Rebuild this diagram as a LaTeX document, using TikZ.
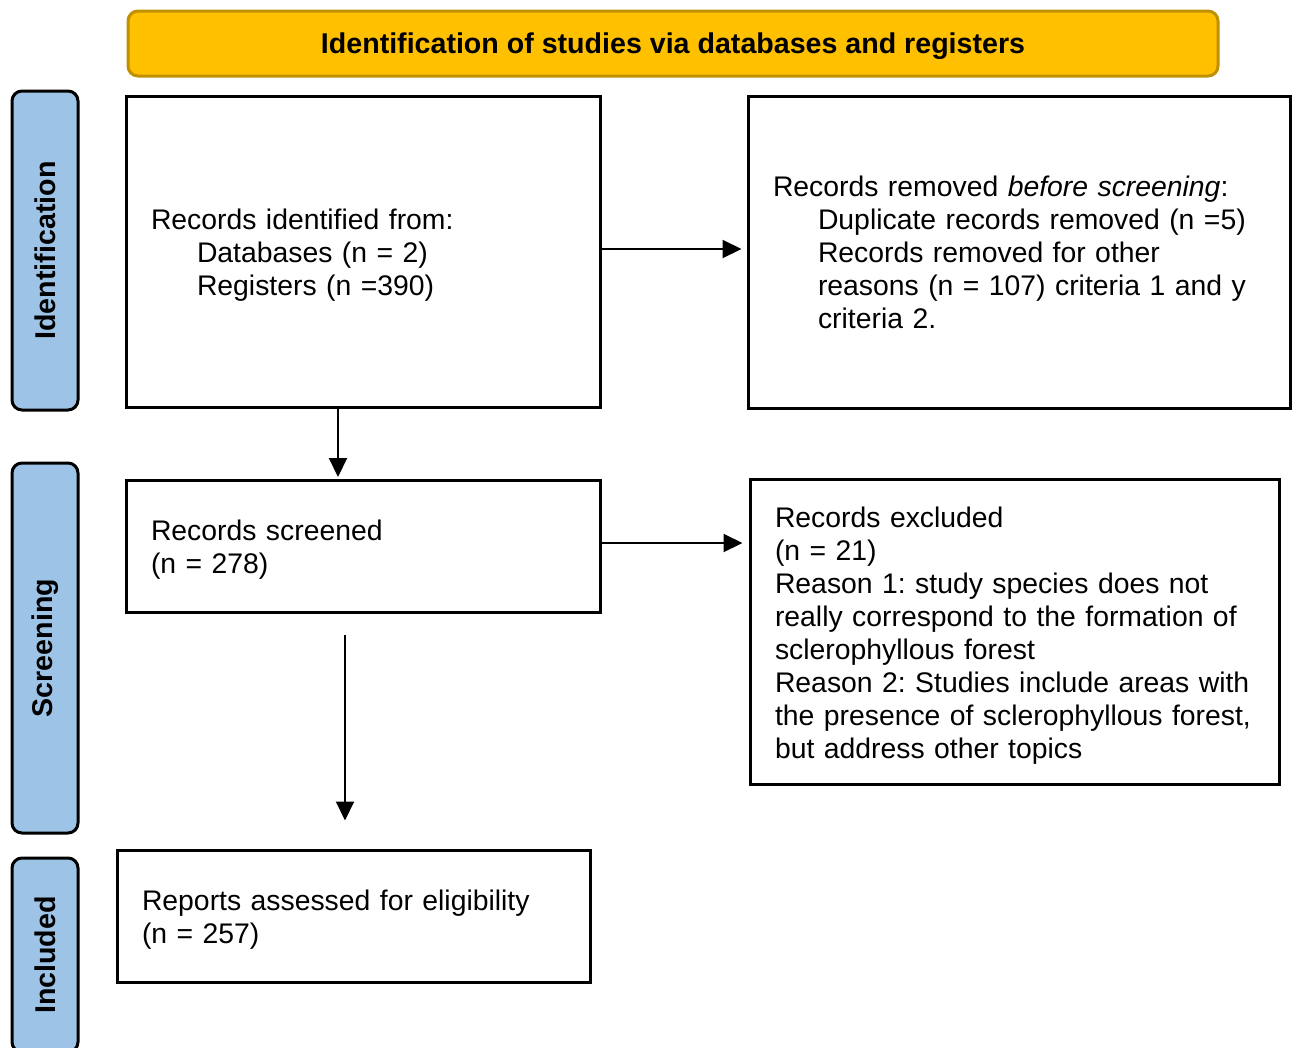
\documentclass[tikz,border=0pt]{standalone}
\usepackage{fontspec}
\setmainfont{Liberation Sans}
\usetikzlibrary{arrows.meta,calc}
\definecolor{hdrfill}{HTML}{FFC000}
\definecolor{hdrdraw}{HTML}{BF9000}
\definecolor{sidefill}{HTML}{9DC3E6}
\newcommand\mystrut{\rule{0pt}{28.5pt}}
\begin{document}
\frenchspacing
\begin{tikzpicture}[x=1pt,y=-1pt,
  font=\fontsize{28.35}{33}\selectfont,
  box/.style={draw=black, line width=3pt, fill=white, inner xsep=25pt, inner ysep=0pt,
    align=left, anchor=center,
    execute at begin node={\frenchspacing\hyphenpenalty=10000\exhyphenpenalty=10000}},
  side/.style={draw=black, line width=3pt, fill=sidefill, rounded corners=10pt, rotate=90,
    font=\fontsize{28.6}{33}\selectfont\bfseries, inner sep=0pt, minimum height=66pt},
  arr/.style={line width=2pt, -{Triangle[length=19pt,width=18pt]}}]
\useasboundingbox (0,0) rectangle (1292,1047);
\clip (0,0) rectangle (1292,1047);

% header
\node[draw=hdrdraw, fill=hdrfill, line width=3pt, rounded corners=10pt,
      minimum width=1090pt, minimum height=65pt, inner sep=0pt, text depth=0pt,
      font=\fontsize{28.6}{33}\selectfont\bfseries] (hdr) at (673,43.5)
  {Identification of studies via databases and registers};

% side labels
\node[side, minimum width=319pt] (sid) at (45,250.5) {Identification};
\node[side, minimum width=370pt] (sscr) at (45,648) {Screening};
\node[side, minimum width=194pt] (sinc) at (45,955) {Included};

% boxes
\node[box, text width=424pt, minimum height=311pt] (b1) at (363,251.5)
  {\mystrut Records identified from:\\
   \hspace*{46pt}Databases (n = 2)\\
   \hspace*{46pt}Registers (n =390)};

\node[box, text width=492pt, minimum height=312pt] (b2) at (1019,252)
  {Records removed \textit{before screening}:\\
   \hspace*{45pt}Duplicate records removed (n =5)\\
   \hspace*{45pt}Records removed for other\\
   \hspace*{45pt}\mbox{reasons (n = 107) criteria 1 and y}\\
   \hspace*{45pt}criteria 2.};

\node[box, text width=424pt, minimum height=132pt] (b3) at (363,546)
  {\mystrut Records screened\\
   (n = 278)};

\node[box, text width=479pt, minimum height=305pt] (b4) at (1014.5,631.5)
  {\mystrut Records excluded\\
   (n = 21)\\
   \mbox{Reason 1: study species does not}\\
   \mbox{really correspond to the formation of}\\
   sclerophyllous forest\\
   \mbox{Reason 2: Studies include areas with}\\
   \mbox{the presence of sclerophyllous forest,}\\
   but address other topics};

\node[box, text width=423pt, minimum height=132pt] (b5) at (353.5,916)
  {\mystrut Reports assessed for eligibility\\
   (n = 257)};

% connectors
\coordinate (a2x) at (338,0);
\coordinate (s4) at (345,635);
\coordinate (r1) at ($(b1.east)+(0,-2.5)$);
\coordinate (r3) at ($(b3.east)+(0,-3)$);
\draw[arr, shorten >=5pt] (r1) -- (r1 -| b2.west);
\draw[arr, shorten >=1.5pt] (b1.south -| a2x) -- (b3.north -| a2x);
\draw[arr, shorten >=6pt] (r3) -- (r3 -| b4.west);
\draw[arr, shorten >=28pt] (s4) -- (s4 |- b5.north);
\end{tikzpicture}
\end{document}
